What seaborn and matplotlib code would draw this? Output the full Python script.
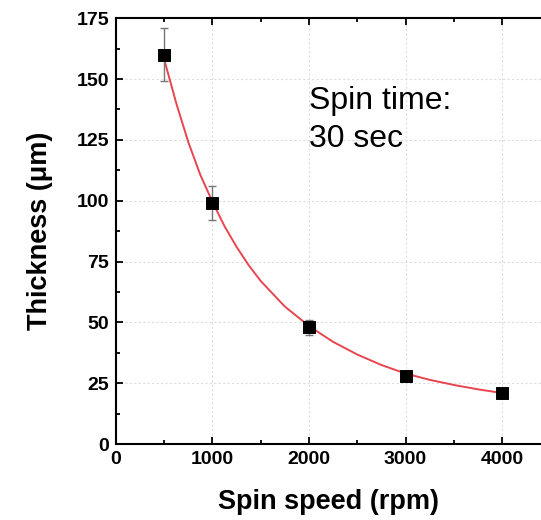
import numpy as np
import pandas as pd
import matplotlib
matplotlib.use("Agg")
import matplotlib.pyplot as plt
from matplotlib.ticker import MultipleLocator
import seaborn as sns

# measured points
speed = [500, 1000, 2000, 3000, 4000]
thickness = [160, 99, 48, 28, 21]
thickness_err = [11, 7, 3, 1.5, 1]

# fitted curve
fit_speed = [500, 625, 750, 875, 1000, 1125, 1250, 1375, 1500, 1750, 2000, 2250,
             2500, 2750, 3000, 3250, 3500, 3750, 4000]
fit_thickness = [158, 140, 124, 110.5, 99.5, 89.5, 81, 73.5, 67, 56.5, 48.5, 42,
                 36.8, 32.5, 29, 26.4, 24.3, 22.5, 21]

pts = pd.DataFrame({"speed": speed, "thickness": thickness})
fit = pd.DataFrame({"speed": fit_speed, "thickness": fit_thickness})

sns.set_style("ticks", {"axes.edgecolor": "black", "text.color": "black",
                        "axes.labelcolor": "black", "xtick.color": "black",
                        "ytick.color": "black"})
plt.rcParams["font.family"] = ["Liberation Sans", "DejaVu Sans"]

fig = plt.figure(figsize=(5.41, 5.20), dpi=100)
ax = fig.add_axes([0.2144, 0.146, 0.7856, 0.819])

ax.grid(True, color="#dddddd", linestyle=(0, (2, 2)), linewidth=0.8)
ax.set_axisbelow(True)

sns.lineplot(x="speed", y="thickness", data=fit, color="#e8454f", linewidth=1.4, ax=ax)
ax.errorbar(speed, thickness, yerr=thickness_err, fmt="none", ecolor="#777777",
            elinewidth=1.0, capsize=3, capthick=1.0, zorder=3)
sns.scatterplot(x="speed", y="thickness", data=pts, marker="s", s=72, color="black",
                edgecolor="black", zorder=4, ax=ax)

ax.set_xlim(0, 4404)
ax.set_ylim(0, 175)
ax.xaxis.set_major_locator(MultipleLocator(1000))
ax.xaxis.set_minor_locator(MultipleLocator(500))
ax.yaxis.set_major_locator(MultipleLocator(25))
ax.yaxis.set_minor_locator(MultipleLocator(12.5))

ax.spines["right"].set_visible(False)
for s in ["left", "bottom", "top"]:
    ax.spines[s].set_linewidth(1.5)
ax.tick_params(which="both", direction="in", top=True, right=False, width=1.3)
ax.tick_params(which="major", length=5, labelsize=14, pad=5)
ax.tick_params(which="minor", length=3)
for lab in ax.get_xticklabels() + ax.get_yticklabels():
    lab.set_fontweight("bold")

ax.set_xlabel("Spin speed (rpm)", fontsize=19.5, fontweight="bold", labelpad=15)
ax.set_ylabel("Thickness (\u03bcm)", fontsize=19.5, fontweight="bold", labelpad=17)

ax.text(1995, 147, "Spin time:\n30 sec", fontsize=23, va="top", ha="left",
        linespacing=1.33)

fig.savefig("out.png", dpi=100)
